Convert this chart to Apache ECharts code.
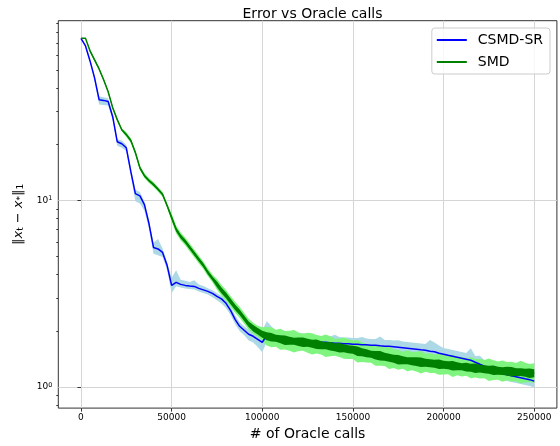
<!DOCTYPE html>
<html>
<head>
<meta charset="utf-8">
<script src="https://cdn.jsdelivr.net/npm/echarts@6/dist/echarts.min.js"></script>
<style>html,body{margin:0;padding:0;background:#fff}#c{width:560px;height:446px}</style>
</head>
<body>
<div id="c"></div>
<script>
// ---- data ----
const calls = Array.from({length: 101}, (_, i) => i * 2500); // sample grid of oracle calls
const xTicks = [0, 50000, 100000, 150000, 200000, 250000];
const yTicks = [1, 10];
const yMinorTicks = [0.8, 0.9, 2, 3, 4, 5, 6, 7, 8, 9, 20, 30, 40, 50, 60, 70, 80, 90];

const csmdMean = [74.3,67.6,56.2,45.6,34.8,34.5,34.0,28.2,20.7,20.2,19.2,14.3,10.9,10.6,9.52,7.53,5.60,5.50,5.27,4.49,
  3.505,3.638,3.549,3.505,3.483,3.462,3.378,3.316,3.255,3.176,3.061,2.968,2.808,2.575,2.305,2.114,2.012,1.915,1.869,1.801,
  1.735,1.892,1.869,1.846,1.835,1.823,1.812,1.801,1.790,1.779,1.768,1.757,1.746,1.735,1.735,1.725,1.714,1.714,1.703,1.703,
  1.693,1.693,1.683,1.683,1.673,1.673,1.662,1.652,1.652,1.642,1.632,1.622,1.612,1.602,1.592,1.582,1.573,1.553,1.543,1.515,
  1.497,1.478,1.460,1.442,1.424,1.407,1.390,1.356,1.323,1.291,1.259,1.229,1.199,1.177,1.162,1.148,1.134,1.120,1.106,1.093,1.073];
// spread of the CSMD-SR band above / below the mean, in percent
const csmdUpPct = [1,1,2,3,4,4,4,3,3,4,4,4,5,5,4,4,6,13,5,4,
  10,16,6,6,5,8,5,5,4,4,4,4,5,5,5,5,5,6,6,8,
  16,19,13,8,6,8,6,6,8,9,8,8,8,8,8,8,11,8,8,8,
  8,8,10,8,8,8,12,8,8,8,9,8,8,8,8,8,8,15,12,10,
  8,8,8,8,8,8,16,8,11,8,8,8,8,8,8,7,7,7,7,7,7];
const csmdDownPct = [1,1,2,4,6,6,5,4,5,5,4,5,10,10,8,6,8,8,6,6,
  10,5,4,4,4,4,4,4,4,5,5,6,6,6,6,6,6,8,8,10,
  13,8,6,6,6,6,6,6,6,6,6,6,6,6,6,6,6,6,6,6,
  6,6,6,6,6,6,6,6,6,6,6,6,6,6,6,6,6,6,6,6,
  6,6,6,6,6,6,6,6,6,6,8,8,8,8,8,8,8,8,8,8,8];

const smdMean = [74.3,74.3,63.6,56.9,50.9,44.5,38.4,31.5,27.2,24.0,22.6,21.0,18.1,15.0,13.6,12.8,12.2,11.5,10.8,9.40,
  8.11,7.00,6.42,6.03,5.60,5.20,4.83,4.49,4.115,3.821,3.549,3.296,3.099,2.877,2.673,2.513,2.333,2.167,2.063,1.988,
  1.915,1.869,1.846,1.823,1.801,1.779,1.768,1.757,1.746,1.735,1.725,1.703,1.693,1.673,1.662,1.652,1.632,1.622,1.612,1.592,
  1.582,1.553,1.534,1.515,1.497,1.478,1.469,1.451,1.433,1.416,1.398,1.390,1.381,1.373,1.365,1.356,1.348,1.339,1.331,1.323,
  1.315,1.307,1.299,1.291,1.283,1.275,1.267,1.259,1.252,1.244,1.236,1.229,1.221,1.214,1.214,1.206,1.199,1.199,1.191,1.184,1.184];
// spread of the SMD light band and of the SMD noisy line itself, in percent
const smdBandPct = [0.5,0.5,2,2,2,2,2,2,2,2,3,3,3,3,3,3,3,3,3,3,
  5,5,5,5,5,5,5,5,5,5,7,7,7,7,7,7,7,7,7,7,
  9,12,13,11,14,12,13,15,12,11,13,14,12,12,15,13,11,12,14,13,
  12,15,13,12,11,14,13,12,15,12,13,11,14,12,13,15,12,13,12,14,
  13,12,15,12,13,11,14,12,13,12,15,13,12,14,12,13,12,15,13,12,13];
const smdLinePct = [0,0,1,1,1,1,1,1,1,1,1.5,1.5,1.5,1.5,1.5,1.5,1.5,1.5,1.5,1.5,
  2.5,2.5,2.5,2.5,2.5,2.5,2.5,2.5,2.5,2.5,3.5,3.5,3.5,3.5,3.5,3.5,3.5,3.5,4,4,
  4.5,5,5.5,4.5,5,6,5,4.5,5.5,6,5,5,6,5,4.5,5.5,5,6,5,5,
  5,6,5,5,4.5,5.5,6,5,5,5,6,5,4.5,5,5.5,6,5,5,5,6,
  5,5,6,5,4.5,5.5,5,6,5,5,5,6,5,5,5.5,6,5,5,5,6,5];

// ---- build ----
const up = (m, p) => m.map((v, i) => v * (1 + p[i] / 100));
const down = (m, p) => m.map((v, i) => v / (1 + p[i] / 100));
const csmdHi = up(csmdMean, csmdUpPct), csmdLo = down(csmdMean, csmdDownPct);
const smdHi = up(smdMean, smdBandPct), smdLo = down(smdMean, smdBandPct);
const smdLineHi = up(smdMean, smdLinePct), smdLineLo = down(smdMean, smdLinePct);

function band(lo, hi, color, z) {
  return {
    type: 'custom', data: [[0, 1]], z: z, silent: true, clip: true,
    renderItem: function (params, api) {
      const pts = [];
      for (let i = 0; i < calls.length; i++) pts.push(api.coord([calls[i], hi[i]]));
      for (let i = calls.length - 1; i >= 0; i--) pts.push(api.coord([calls[i], lo[i]]));
      return { type: 'polygon', shape: { points: pts }, style: { fill: color } };
    }
  };
}
const pair = (m) => calls.map((x, i) => [x, m[i]]);
const FONT = 'DejaVu Sans';

const chart = echarts.init(document.getElementById('c'), null, { renderer: 'canvas' });
chart.setOption({
  animation: false,
  backgroundColor: '#ffffff',
  textStyle: { fontFamily: FONT },
  title: {
    text: 'Error vs Oracle calls', left: 307.5, top: 2, textAlign: 'center',
    textStyle: { fontFamily: FONT, fontSize: 14, fontWeight: 'normal', color: '#000' }
  },
  legend: {
    data: ['CSMD-SR', 'SMD'], orient: 'vertical', right: 10, top: 28,
    icon: 'rect', itemWidth: 30, itemHeight: 2, itemGap: 6,
    padding: [4, 7, 4, 5],
    backgroundColor: 'rgba(255,255,255,0.8)', borderColor: '#cccccc', borderWidth: 1, borderRadius: 3,
    textStyle: { fontFamily: FONT, fontSize: 14, color: '#000', lineHeight: 16, padding: [0, 0, 0, 6] }
  },
  grid: { left: 58.3, top: 20.7, width: 498.6, height: 388.3, show: true, borderColor: '#333', borderWidth: 1, backgroundColor: 'transparent' },
  xAxis: {
    type: 'value', min: -12500, max: 262500,
    name: '# of Oracle calls', nameLocation: 'middle', nameGap: 17,
    nameTextStyle: { fontFamily: FONT, fontSize: 14, color: '#000' },
    axisLine: { show: false },
    axisTick: { show: true, length: 3.5, customValues: xTicks, lineStyle: { color: '#333' } },
    axisLabel: { customValues: xTicks, fontFamily: FONT, fontSize: 9, color: '#000', margin: 5,
      formatter: function (v) { return String(Math.round(v)); } },
    splitLine: { show: true, lineStyle: { color: '#d5d5d5', width: 1 } }
  },
  yAxis: [{
    type: 'log', logBase: 10, min: 0.769, max: 92.4,
    name: '‖{i|x}{s|t} − {i|x}{s|*}‖{s|1}', nameLocation: 'middle', nameGap: 33, nameRotate: 90,
    nameTextStyle: {
      fontFamily: FONT, fontSize: 13, color: '#000',
      rich: {
        i: { fontFamily: FONT, fontSize: 13, fontStyle: 'italic', color: '#000' },
        s: { fontFamily: FONT, fontSize: 9, color: '#000', verticalAlign: 'bottom', lineHeight: 14 }
      }
    },
    axisLine: { show: false },
    axisTick: { show: true, length: 3.5, customValues: yTicks, lineStyle: { color: '#333' } },
    axisLabel: {
      customValues: yTicks, margin: 6, fontFamily: FONT, fontSize: 9, color: '#000',
      formatter: function (v) { return '{a|10}{b|' + Math.round(Math.log10(v)) + '}'; },
      rich: {
        a: { fontFamily: FONT, fontSize: 9, color: '#000' },
        b: { fontFamily: FONT, fontSize: 6.5, color: '#000', verticalAlign: 'top', padding: [0, 0, 4, 0] }
      }
    },
    splitLine: { show: true, lineStyle: { color: '#d5d5d5', width: 1 } }
  }, {
    type: 'log', logBase: 10, min: 0.769, max: 92.4, position: 'left',
    axisLine: { show: false }, axisLabel: { show: false }, splitLine: { show: false },
    axisTick: { show: true, length: 2, customValues: yMinorTicks, lineStyle: { color: '#333' } }
  }],
  series: [
    band(csmdLo, csmdHi, '#add8e6', 1),
    band(smdLo, smdHi, '#7ff57f', 2),
    { name: 'CSMD-SR', type: 'line', data: pair(csmdMean), symbol: 'none', z: 3,
      color: '#0000ff', lineStyle: { color: '#0000ff', width: 1.5 } },
    band(smdLineLo, smdLineHi, '#008000', 4),
    { name: 'SMD', type: 'line', data: pair(smdMean), symbol: 'none', z: 5,
      color: '#008000', lineStyle: { color: '#008000', width: 1.5 } }
  ]
});
</script>
</body>
</html>
